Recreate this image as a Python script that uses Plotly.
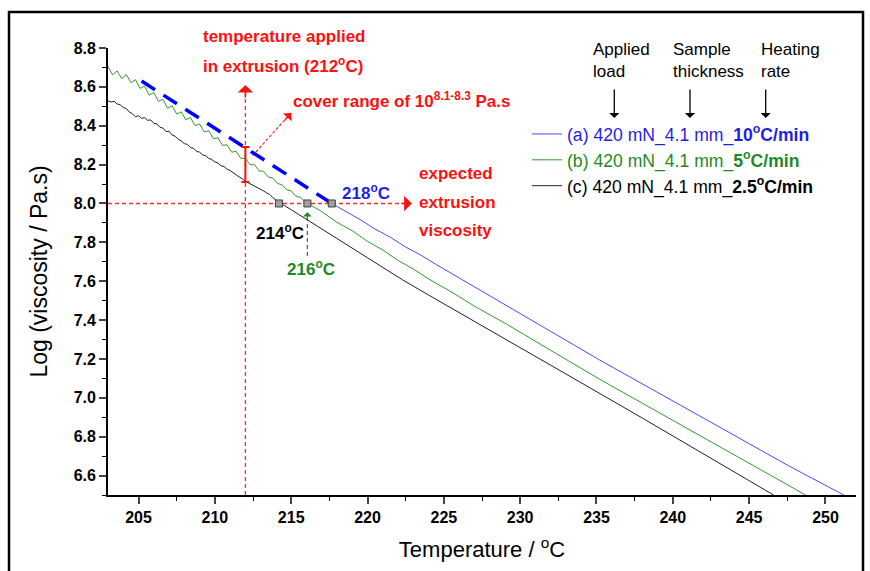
import plotly.graph_objects as go

# ---------------- data ----------------
# (a) 420 mN, 4.1 mm, 10 C/min  (blue)
temp_a = [217.66, 218.5, 219.5, 220.5, 221.5, 222.5, 223.5, 224.5, 226.05, 228.0,
          230.0, 232.0, 235.2, 238.0, 241.0, 244.0, 247.66, 251.2]
visc_a = [8.000, 7.962, 7.918, 7.868, 7.826, 7.776, 7.734, 7.686, 7.615, 7.526,
          7.434, 7.343, 7.195, 7.072, 6.940, 6.808, 6.647, 6.500]

# (b) 420 mN, 4.1 mm, 5 C/min  (green)
temp_b = [203.0, 203.3, 203.6, 203.9, 204.2, 204.5, 204.8, 205.1, 205.4, 205.7,
          206.0, 206.3, 206.6, 206.9, 207.2, 207.5, 207.8, 208.1, 208.4, 208.7,
          209.0, 209.3, 209.6, 209.9, 210.2, 210.5, 210.8, 211.1, 211.4, 211.7,
          212.0, 212.3, 212.6, 212.9, 213.2, 213.5, 213.8, 214.1, 214.4, 214.7,
          215.0, 215.3, 215.6, 216.05, 217.0, 218.0, 219.0, 220.0, 221.0, 222.0,
          223.0, 224.1, 225.5, 227.0, 229.0, 231.0, 233.0, 235.2, 237.5, 240.0,
          242.5, 245.0, 248.7]
visc_b = [8.705, 8.662, 8.682, 8.642, 8.663, 8.622, 8.637, 8.592, 8.604, 8.557,
          8.571, 8.526, 8.536, 8.490, 8.503, 8.460, 8.471, 8.431, 8.442, 8.401,
          8.409, 8.369, 8.374, 8.334, 8.338, 8.299, 8.302, 8.264, 8.268, 8.232,
          8.232, 8.200, 8.199, 8.168, 8.165, 8.136, 8.131, 8.103, 8.097, 8.071,
          8.065, 8.038, 8.031, 8.002, 7.958, 7.903, 7.860, 7.805, 7.761, 7.707,
          7.663, 7.607, 7.545, 7.472, 7.384, 7.289, 7.198, 7.096, 6.995, 6.885,
          6.774, 6.663, 6.500]

# (c) 420 mN, 4.1 mm, 2.5 C/min  (black)
temp_c = [203.0, 203.2, 203.4, 203.6, 203.8, 204.0, 204.2, 204.4, 204.6, 204.8,
          205.0, 205.2, 205.4, 205.6, 205.8, 206.0, 206.2, 206.4, 206.6, 206.8,
          207.0, 207.2, 207.4, 207.6, 207.8, 208.0, 208.2, 208.4, 208.6, 208.8,
          209.0, 209.2, 209.4, 209.6, 209.8, 210.0, 210.2, 210.4, 210.6, 210.8,
          211.0, 211.2, 211.4, 211.6, 211.8, 212.0, 212.2, 212.4, 212.6, 212.8,
          213.0, 213.2, 213.4, 213.6, 213.8, 214.0, 214.2, 215.0, 216.0, 217.0,
          218.0, 219.0, 220.0, 221.0, 222.3, 224.0, 226.0, 228.0, 230.0, 232.0,
          235.2, 238.0, 241.0, 244.0, 246.6]
visc_c = [8.528, 8.522, 8.526, 8.512, 8.508, 8.494, 8.488, 8.470, 8.462, 8.446,
          8.452, 8.438, 8.442, 8.428, 8.430, 8.412, 8.410, 8.392, 8.388, 8.370,
          8.372, 8.352, 8.346, 8.330, 8.322, 8.308, 8.304, 8.288, 8.284, 8.268,
          8.264, 8.250, 8.246, 8.232, 8.226, 8.214, 8.208, 8.194, 8.190, 8.176,
          8.170, 8.158, 8.150, 8.136, 8.128, 8.112, 8.106, 8.098, 8.092, 8.080,
          8.074, 8.064, 8.054, 8.046, 8.030, 8.018, 8.006, 7.968, 7.918, 7.872,
          7.818, 7.770, 7.718, 7.670, 7.607, 7.529, 7.440, 7.348, 7.258, 7.168,
          7.024, 6.896, 6.758, 6.620, 6.500]

# extrapolation of (a) back to lower temperature (blue dashed)
extrap_temp = [205.2, 217.66]
extrap_visc = [8.63, 8.00]

# temperatures where each curve reaches the expected extrusion viscosity
cross_temp = [214.2, 216.06, 217.66]
target_visc = 8.0
applied_temp = 212.0
range_low, range_high = 8.11, 8.29
arrow_end_temp = 222.9          # end of the horizontal red arrow
vert_arrow_top = 8.61           # top of the vertical red arrow
diag_start = (212.47, 8.246)
diag_end = (215.0, 8.466)
green_arrow = (7.73, 7.955)

x_range = [203, 252]
y_range = [6.5, 8.8]

# ---------------- layout geometry ----------------
W, H = 870, 571
ML, MR, MT, MB = 108, 14, 48, 76
PW, PH = W - ML - MR, H - MT - MB


def px(x):
    return (x - ML) / PW


def py(y):
    return (H - MB - y) / PH


FONT = "Arial, Liberation Sans, sans-serif"
RED = "#ff1010"
GUIDE_RED = "#ff2a2a"
BLUE_LINE = "#4a4aff"
GREEN_LINE = "#2f9a2f"
BLACK_LINE = "#202020"
BLUE_TXT = "#1f1fe6"
GREEN_TXT = "#1e8a1e"

fig = go.Figure()

# red guide lines
fig.add_trace(go.Scatter(x=[x_range[0], arrow_end_temp - 0.6], y=[target_visc, target_visc],
                         mode="lines", line=dict(color=GUIDE_RED, width=1.3, dash="4px,3px"),
                         showlegend=False, hoverinfo="skip"))
fig.add_trace(go.Scatter(x=[applied_temp, applied_temp], y=[y_range[0], vert_arrow_top - 0.05],
                         mode="lines", line=dict(color=GUIDE_RED, width=1.3, dash="4px,3px"),
                         showlegend=False, hoverinfo="skip"))
fig.add_trace(go.Scatter(x=[diag_start[0], diag_end[0]], y=[diag_start[1], diag_end[1]],
                         mode="lines", line=dict(color=GUIDE_RED, width=1.2, dash="3px,2px"),
                         showlegend=False, hoverinfo="skip"))
# green guide arrow
fig.add_trace(go.Scatter(x=[cross_temp[1], cross_temp[1]], y=[green_arrow[0], green_arrow[1] - 0.03],
                         mode="lines", line=dict(color=GREEN_TXT, width=1.2, dash="4px,3px"),
                         showlegend=False, hoverinfo="skip"))

# blue dashed extrapolation
fig.add_trace(go.Scatter(x=extrap_temp, y=extrap_visc, mode="lines",
                         line=dict(color="#0000ff", width=3.5, dash="16px,10px"),
                         showlegend=False, hoverinfo="skip"))

# data curves
fig.add_trace(go.Scatter(x=temp_a, y=visc_a, mode="lines", line=dict(color=BLUE_LINE, width=1),
                         legendgroup="a",
                         name="<span style='color:%s'>(a) 420 mN_4.1 mm_<b>10<sup>o</sup>C/min</b></span>" % BLUE_TXT))
fig.add_trace(go.Scatter(x=temp_b, y=visc_b, mode="lines", line=dict(color=GREEN_LINE, width=1),
                         legendgroup="b",
                         name="<span style='color:%s'>(b) 420 mN_4.1 mm_<b>5<sup>o</sup>C/min</b></span>" % GREEN_TXT))
fig.add_trace(go.Scatter(x=temp_c, y=visc_c, mode="lines", line=dict(color=BLACK_LINE, width=1),
                         legendgroup="c",
                         name="(c) 420 mN_4.1 mm_<b>2.5<sup>o</sup>C/min</b>"))

# error bar showing covered range at 212 C
fig.add_trace(go.Scatter(x=[applied_temp], y=[(range_low + range_high) / 2], mode="markers",
                         marker=dict(size=1, color="rgba(0,0,0,0)"),
                         error_y=dict(type="data", symmetric=False,
                                      array=[range_high - (range_low + range_high) / 2],
                                      arrayminus=[(range_low + range_high) / 2 - range_low],
                                      color=RED, thickness=2, width=4),
                         showlegend=False, hoverinfo="skip"))

# crossing markers
fig.add_trace(go.Scatter(x=cross_temp, y=[target_visc] * len(cross_temp), mode="markers",
                         marker=dict(symbol="square", size=7, color="#a0a0a0",
                                     line=dict(color="#404040", width=1)),
                         showlegend=False, hoverinfo="skip"))

ann = []


def text(x, y, s, color="black", size=17, bold=True):
    ann.append(dict(x=px(x), y=py(y), xref="paper", yref="paper", text=s, showarrow=False,
                    xanchor="left", yanchor="middle",
                    font=dict(family=FONT, size=size, color=color, weight="bold" if bold else "normal")))


# red annotations
text(201, 36, "temperature applied", RED, 17)
text(201, 65, "in extrusion (212<sup>o</sup>C)", RED, 17)
text(291, 100, "cover range of 10<sup>8.1-8.3</sup> Pa.s", RED, 17)
text(417, 173, "expected", RED, 17)
text(417, 202, "extrusion", RED, 17)
text(417, 230, "viscosity", RED, 17)
# temperature labels
text(340, 192, "218<sup>o</sup>C", BLUE_TXT, 17)
text(254, 232, "214<sup>o</sup>C", "black", 17)
text(285, 268, "216<sup>o</sup>C", GREEN_TXT, 17)
# legend headers
text(591, 49, "Applied", "black", 17, False)
text(591, 71, "load", "black", 17, False)
text(671, 49, "Sample", "black", 17, False)
text(671, 71, "thickness", "black", 17, False)
text(759, 49, "Heating", "black", 17, False)
text(759, 71, "rate", "black", 17, False)

# header arrows
for hx in [614.3, 690, 765.7]:
    ann.append(dict(x=px(hx), y=py(118), xref="paper", yref="paper", ax=0, ay=-30,
                    showarrow=True, arrowhead=1, arrowsize=1.3, arrowwidth=1.3,
                    arrowcolor="black", text=""))

# red arrowheads
ann.append(dict(x=arrow_end_temp, y=target_visc, xref="x", yref="y", ax=-12, ay=0,
                showarrow=True, arrowhead=1, arrowsize=1.6, arrowwidth=1.6, arrowcolor=RED, text=""))
ann.append(dict(x=applied_temp, y=vert_arrow_top, xref="x", yref="y", ax=0, ay=14,
                showarrow=True, arrowhead=1, arrowsize=1.6, arrowwidth=1.6, arrowcolor=RED, text=""))
ann.append(dict(x=diag_end[0], y=diag_end[1], xref="x", yref="y",
                ax=diag_end[0] - 0.5, ay=diag_end[1] - 0.045, axref="x", ayref="y",
                showarrow=True, arrowhead=1, arrowsize=1.4, arrowwidth=1.4, arrowcolor=RED, text=""))
ann.append(dict(x=cross_temp[1], y=green_arrow[1], xref="x", yref="y", ax=0, ay=8,
                showarrow=True, arrowhead=1, arrowsize=1.1, arrowwidth=1.3, arrowcolor=GREEN_TXT, text=""))

fig.update_layout(
    width=W, height=H,
    margin=dict(l=ML, r=MR, t=MT, b=MB),
    paper_bgcolor="white", plot_bgcolor="white",
    font=dict(family=FONT, color="black"),
    annotations=ann,
    showlegend=True,
    legend=dict(x=px(527), y=py(116), xanchor="left", yanchor="top",
                bgcolor="rgba(0,0,0,0)", font=dict(family=FONT, size=17.6, color="black"),
                tracegroupgap=0, traceorder="grouped"),
    shapes=[dict(type="rect", xref="paper", yref="paper", x0=px(9), x1=px(863), y0=py(580), y1=py(12),
                 line=dict(color="black", width=2.5), layer="below")],
)

fig.update_xaxes(range=x_range, tick0=0, dtick=5, ticks="outside", ticklen=7, tickwidth=1.6,
                 showline=True, linecolor="black", linewidth=1.8, showgrid=False, zeroline=False,
                 tickfont=dict(family=FONT, size=16, weight="bold"),
                 minor=dict(dtick=2.5, ticks="outside", ticklen=4, tickwidth=1.4, tickcolor="black"),
                 title=dict(text="Temperature / <sup>o</sup>C", font=dict(family=FONT, size=22), standoff=17))
fig.update_yaxes(range=y_range, tick0=0, dtick=0.2, ticks="outside", ticklen=7, tickwidth=1.6,
                 showline=True, linecolor="black", linewidth=1.8, showgrid=False, zeroline=False,
                 tickformat=".1f", tickfont=dict(family=FONT, size=16, weight="bold"),
                 minor=dict(dtick=0.1, ticks="outside", ticklen=4, tickwidth=1.4, tickcolor="black"),
                 title=dict(text="Log (viscosity / Pa.s)", font=dict(family=FONT, size=23), standoff=20))

fig.write_html("out.html")
